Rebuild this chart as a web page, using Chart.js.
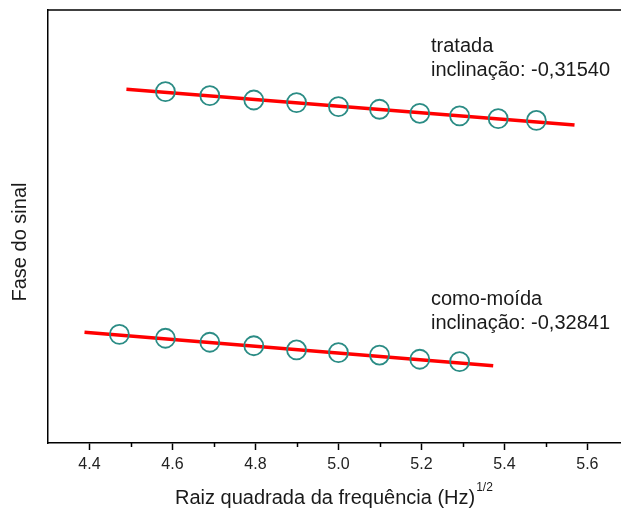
<!DOCTYPE html>
<html>
<head>
<meta charset="utf-8">
<script src="https://cdn.jsdelivr.net/npm/chart.js@4/dist/chart.umd.min.js"></script>
<style>
  body { margin: 0; background: #fff; overflow: hidden; }
  #chart { display: block; }
</style>
</head>
<body>
<canvas id="chart" width="621" height="511"></canvas>
<script>
'use strict';

// x = raiz quadrada da frequência, y = fase
const tratadaX = [4.583, 4.690, 4.796, 4.899, 5.000, 5.099, 5.196, 5.292, 5.385, 5.477];
const tratadaY = [3.327, 3.289, 3.248, 3.223, 3.185, 3.160, 3.122, 3.097, 3.071, 3.054];
const tratadaFitX = [4.489, 5.569];
const tratadaFitY = [3.349, 3.011];

const moidaX = [4.472, 4.583, 4.690, 4.796, 4.899, 5.000, 5.099, 5.196, 5.292];
const moidaY = [1.029, 0.992, 0.954, 0.921, 0.881, 0.855, 0.833, 0.793, 0.770];
const moidaFitX = [4.388, 5.373];
const moidaFitY = [1.048, 0.732];

const majorTicks = [4.4, 4.6, 4.8, 5.0, 5.2, 5.4, 5.6];
const minorTicks = [4.5, 4.7, 4.9, 5.1, 5.3, 5.5];

const labels = [
  { lines: ['tratada', 'inclinação: -0,31540'], x: 431, y: 52 },
  { lines: ['como-moída', 'inclinação: -0,32841'], x: 431, y: 305 }
];

const font = '"Liberation Sans", Arial, sans-serif';

function pts(xs, ys) {
  return xs.map((x, i) => ({ x: x, y: ys[i] }));
}

const extras = {
  id: 'extras',
  afterDraw(chart) {
    const ctx = chart.ctx;
    const area = chart.chartArea;
    const xs = chart.scales.x;
    ctx.save();
    // borda superior
    ctx.strokeStyle = '#000';
    ctx.lineWidth = 1.5;
    ctx.beginPath();
    ctx.moveTo(area.left, area.top);
    ctx.lineTo(chart.width, area.top);
    ctx.stroke();
    // ticks menores
    minorTicks.forEach(v => {
      const px = Math.round(xs.getPixelForValue(v)) + 0.5;
      ctx.beginPath();
      ctx.moveTo(px, area.bottom);
      ctx.lineTo(px, area.bottom + 4);
      ctx.stroke();
    });
    // textos
    ctx.fillStyle = '#1a1a1a';
    ctx.font = '20px ' + font;
    ctx.textAlign = 'left';
    ctx.textBaseline = 'alphabetic';
    labels.forEach(l => {
      l.lines.forEach((t, i) => ctx.fillText(t, l.x, l.y + i * 24));
    });
    // título do eixo x com expoente
    const main = 'Raiz quadrada da frequência (Hz)';
    const w = ctx.measureText(main).width;
    ctx.fillText(main, 175, 504);
    ctx.font = '12px ' + font;
    ctx.fillText('1/2', 175 + w + 1, 491);
    // título do eixo y
    ctx.font = '20px ' + font;
    ctx.translate(26, 242);
    ctx.rotate(-Math.PI / 2);
    ctx.textAlign = 'center';
    ctx.fillText('Fase do sinal', 0, 0);
    ctx.restore();
  }
};

const config = {
  type: 'scatter',
  data: {
    datasets: [
      {
        label: 'tratada',
        data: pts(tratadaX, tratadaY),
        pointStyle: 'circle',
        pointRadius: 9.5,
        borderColor: '#2b8c85',
        borderWidth: 1.8,
        backgroundColor: 'rgba(0,0,0,0)',
        order: 0
      },
      {
        label: 'como-moída',
        data: pts(moidaX, moidaY),
        pointStyle: 'circle',
        pointRadius: 9.5,
        borderColor: '#2b8c85',
        borderWidth: 1.8,
        backgroundColor: 'rgba(0,0,0,0)',
        order: 0
      },
      {
        type: 'line',
        label: 'ajuste tratada',
        data: pts(tratadaFitX, tratadaFitY),
        borderColor: '#ff0000',
        borderWidth: 3.5,
        pointRadius: 0,
        showLine: true,
        order: 1
      },
      {
        type: 'line',
        label: 'ajuste como-moída',
        data: pts(moidaFitX, moidaFitY),
        borderColor: '#ff0000',
        borderWidth: 3.5,
        pointRadius: 0,
        showLine: true,
        order: 1
      }
    ]
  },
  options: {
    responsive: false,
    animation: false,
    layout: { autoPadding: false, padding: { top: 10, right: 0, left: 0, bottom: 0 } },
    plugins: { legend: { display: false }, tooltip: { enabled: false } },
    scales: {
      x: {
        type: 'linear',
        min: 4.3,
        max: 5.681,
        afterFit: s => { s.height = 68; s.paddingLeft = 0; s.paddingRight = 0; },
        afterBuildTicks: s => { s.ticks = majorTicks.map(v => ({ value: v })); },
        ticks: {
          font: { size: 16, family: font },
          color: '#222',
          padding: 5,
          callback: v => v.toFixed(1),
          maxRotation: 0
        },
        grid: { drawOnChartArea: false, drawTicks: true, tickLength: 7, tickColor: '#000', tickWidth: 1.5 },
        border: { display: true, color: '#000', width: 1.5 }
      },
      y: {
        min: 0,
        max: 4.1,
        afterFit: s => { s.width = 48; },
        ticks: { display: false },
        grid: { display: false },
        border: { display: true, color: '#000', width: 1.5 }
      }
    }
  },
  plugins: [extras]
};

new Chart(document.getElementById('chart'), config);
</script>
</body>
</html>
